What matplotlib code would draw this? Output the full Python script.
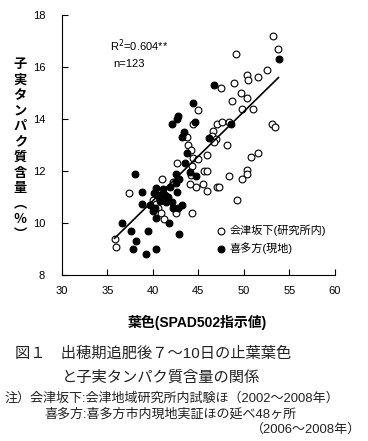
import matplotlib
matplotlib.use("Agg")
import matplotlib.pyplot as plt
import numpy as np

plt.rcParams['font.family'] = ['Liberation Sans', 'Noto Sans CJK JP', 'DejaVu Sans']

# 会津坂下 (open circles)
aizu_x = [53.2, 53.7, 49.1, 52.5, 50.3, 50.4, 51.5, 48.9, 47.5, 49.7, 50.3, 48.7,
          49.8, 51.0, 45.0, 47.0, 47.6, 48.4, 53.1, 53.4, 44.4, 46.6, 46.5, 46.9,
          46.7, 43.7, 43.85, 44.2, 48.1, 44.4, 44.95, 46.0, 42.6, 44.3, 51.5, 50.8,
          44.2, 45.6, 46.0, 50.3, 50.3, 48.35, 49.8, 41.0, 42.2, 44.1, 44.7, 45.5,
          46.0, 47.0, 47.25, 37.4, 40.0, 40.4, 40.55, 42.5, 44.3, 40.9, 41.2, 49.3,
          35.8, 36.0]
aizu_y = [17.2, 16.7, 16.5, 15.9, 15.7, 15.5, 15.6, 15.4, 15.2, 15.0, 14.8, 14.7,
          14.4, 14.4, 14.35, 13.8, 13.9, 13.9, 13.8, 13.7, 13.8, 13.55, 13.35, 13.25,
          13.1, 13.3, 13.0, 12.8, 13.0, 12.5, 12.45, 12.6, 12.3, 12.2, 12.7, 12.55,
          11.85, 12.0, 12.0, 12.05, 11.9, 11.8, 11.7, 11.7, 11.6, 11.5, 11.4, 11.5,
          11.25, 11.4, 11.4, 11.15, 10.9, 10.75, 10.6, 10.4, 10.4, 10.4, 10.15, 10.9,
          9.4, 9.1]

# 喜多方 (filled circles)
kita_x = [53.85, 46.7, 44.4, 42.75, 42.6, 42.1, 44.6, 43.4, 43.2, 46.15, 48.6, 43.7,
          43.5, 44.1, 44.7, 38.0, 42.5, 42.9, 42.5, 41.9, 42.6, 38.8, 40.3, 40.1,
          40.55, 41.3, 41.65, 40.9, 41.4, 38.8, 39.7, 40.2, 42.1, 42.2, 43.2, 42.75,
          40.0, 40.3, 41.8, 36.6, 37.6, 39.45, 42.9, 38.1, 37.8, 40.3, 39.3, 40.8, 41.1]
kita_y = [16.3, 15.3, 14.6, 14.1, 14.0, 13.8, 13.9, 13.5, 13.3, 13.27, 13.8, 12.7,
          12.3, 11.95, 11.8, 11.9, 11.9, 11.7, 11.55, 11.4, 11.2, 11.2, 11.35, 11.15,
          11.1, 11.1, 11.0, 11.0, 10.8, 10.75, 10.7, 10.6, 10.8, 10.6, 10.7, 10.6,
          10.45, 10.2, 10.0, 10.0, 9.7, 9.7, 9.6, 9.3, 9.0, 9.0, 8.8, 10.85, 11.3]

# regression line
slope = 0.343
intercept = -2.86
fit_x = [35.8, 53.8]

xticks = [30, 35, 40, 45, 50, 55, 60]
yticks = [8, 10, 12, 14, 16, 18]


def main():
    fig = plt.figure(figsize=(3.68, 4.41), dpi=100)
    ax = fig.add_axes([0.168, 0.376, 0.742, 0.590])

    ax.scatter(aizu_x, aizu_y, s=24, facecolors='white', edgecolors='black',
               linewidths=0.8, zorder=3, label='会津坂下(研究所内)')
    ax.scatter(kita_x, kita_y, s=24, facecolors='black', edgecolors='black',
               linewidths=0.8, zorder=3, label='喜多方(現地)')
    fx = np.array(fit_x)
    ax.plot(fx, slope * fx + intercept, color='black', lw=1.2, zorder=4)

    ax.set_xlim(30, 60)
    ax.set_ylim(8, 18)
    ax.set_xticks(xticks)
    ax.set_yticks(yticks)
    ax.tick_params(direction='in', labelsize=8, length=4, width=0.8, pad=8)
    ax.tick_params(axis='y', pad=12)
    for s in ['top', 'right']:
        ax.spines[s].set_visible(False)
    for s in ['left', 'bottom']:
        ax.spines[s].set_linewidth(0.8)

    ax.text(0.176, 0.865, 'R$^2$=0.604**', transform=ax.transAxes, fontsize=8)
    ax.text(0.19, 0.80, 'n=123', transform=ax.transAxes, fontsize=8)

    ax.legend(loc='lower left', bbox_to_anchor=(0.54, 0.06), frameon=False,
              fontsize=8, handletextpad=0.1, labelspacing=0.6, borderpad=0,
              handlelength=1.2)

    ylab = '子実タンパク質含量︵％︶'
    fig.text(0.055, 0.66, '\n'.join(ylab), ha='center', va='center',
             fontsize=9.5, fontweight='bold', linespacing=1.38)
    fig.text(0.535, 0.268, '葉色(SPAD502指示値)', ha='center', va='center',
             fontsize=10, fontweight='bold')

    fig.text(0.04, 0.198, '図１　出穂期追肥後７～10日の止葉葉色', fontsize=11,
             va='center', color='#222222')
    fig.text(0.168, 0.145, 'と子実タンパク質含量の関係', fontsize=11,
             va='center', color='#222222')
    fig.text(0.012, 0.097, '注）会津坂下:会津地域研究所内試験ほ（2002～2008年）',
             fontsize=9.4, va='center', color='#222222')
    fig.text(0.12, 0.061, '喜多方:喜多方市内現地実証ほの延べ48ヶ所',
             fontsize=9.4, va='center', color='#222222')
    fig.text(0.98, 0.025, '（2006～2008年）', fontsize=9.4, va='center',
             ha='right', color='#222222')

    fig.savefig('out.png', dpi=100)


if __name__ == '__main__':
    main()
